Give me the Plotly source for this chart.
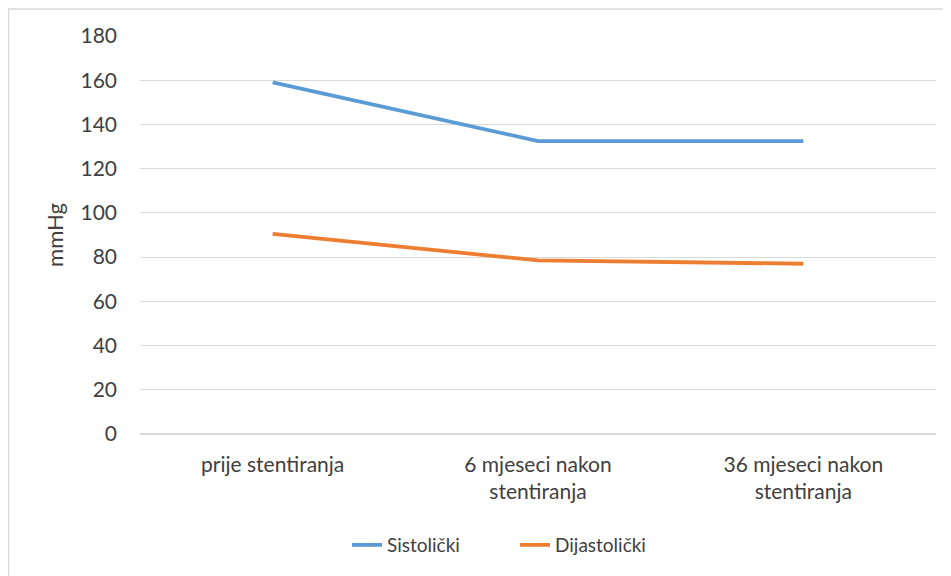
import plotly.graph_objects as go

categories = ["prije stentiranja", "6 mjeseci nakon<br>stentiranja", "36 mjeseci nakon<br>stentiranja"]
sistolicki = [159, 132.5, 132.5]
dijastolicki = [90.5, 78.5, 77]
y_ticks = [0, 20, 40, 60, 80, 100, 120, 140, 160, 180]

W, H = 943, 568
L, R, T, B = 132, 15, 28, 134

fig = go.Figure()
fig.add_trace(go.Scatter(x=categories, y=sistolicki, mode="lines", name="Sistolički",
                         line=dict(color="#5B9BD5", width=3.8)))
fig.add_trace(go.Scatter(x=categories, y=dijastolicki, mode="lines", name="Dijastolički",
                         line=dict(color="#ED7D31", width=3.8)))

pw = W - L - R
ph = H - T - B
fig.add_shape(type="rect", xref="paper", yref="paper",
              x0=(0.5 - L) / pw, x1=(W + 20 - L) / pw,
              y0=1 - (H + 20 - T) / ph, y1=1 + (T - 0.5) / ph,
              line=dict(color="#D9D9D9", width=1.5), fillcolor="rgba(0,0,0,0)", layer="below")

font = "Lato, 'Open Sans', sans-serif"
fig.update_layout(
    width=W, height=H,
    margin=dict(l=L, r=R, t=T, b=B),
    paper_bgcolor="white", plot_bgcolor="white",
    font=dict(family=font, color="#404040"),
    showlegend=True,
    legend=dict(orientation="h", x=(347 - 140) / 796, xanchor="left", y=-0.279, yanchor="middle",
                font=dict(size=19, color="#404040"), tracegroupgap=0,
                entrywidth=123, entrywidthmode="pixels"),
    xaxis=dict(type="category", showgrid=False, showline=False, ticks="",
               tickfont=dict(size=21, color="#404040"), range=[-0.5, 2.5],
               ticklabelstandoff=16),
    yaxis=dict(range=[0, 180], tickvals=y_ticks, showgrid=True, gridcolor="#D9D9D9", gridwidth=1,
               zeroline=True, zerolinecolor="#D9D9D9", zerolinewidth=1.5,
               tickfont=dict(size=21, color="#404040"), ticklabelstandoff=22,
               title=dict(text="mmHg", font=dict(size=22, color="#404040"), standoff=10)),
)
fig.write_html("out.html")
